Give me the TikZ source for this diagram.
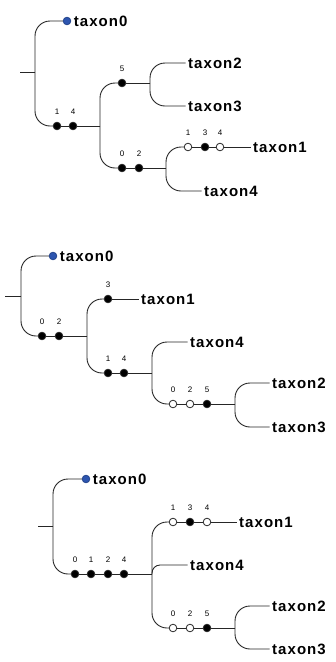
\documentclass[tikz,border=0pt]{standalone}
\usepackage{fontspec}
\setmainfont{Liberation Sans}
\newfontfamily\taxfont{Liberation Sans}[LetterSpace=7]
\usetikzlibrary{positioning}
\definecolor{siteblue}{RGB}{45,85,175}
\tikzset{
	branch/.style = {draw = black!85, line width = 0.9pt, rounded corners = 15},
	num/.style = {font = \fontsize{8}{8}\selectfont, inner sep = 0, yshift = 7.5pt},
	taxon/.style = {font = \taxfont\fontsize{15}{15}\selectfont\bfseries, inner xsep = 2.5, inner ysep = 0, anchor = west}
}
\newcommand{\site}[2]{
	\node[draw = black!85, line width = 0.8pt, circle, fill = #1, inner sep = 0, minimum size = 7.6, label distance = 0pt, label = {[num]above:#2}]
}
\newcommand{\leafdot}{
	\node[draw = siteblue!80!black, line width = 0.8pt, circle, fill = siteblue, inner sep = 0, minimum size = 7.6]
}

\begin{document}
\begin{tikzpicture}[x = 1pt, y = -1pt]
	\useasboundingbox (0,0) rectangle (336,662);

		% first tree
		\coordinate (a_root) at (20,72);
		\coordinate (a_j1) at (35,72);
		\coordinate (a_j2) at (100,126);
		\coordinate (a_j3) at (150,83);
		\coordinate (a_j4) at (166,168);

		\leafdot (a_b0) at (67,21) {};
		\node[taxon, right = 0 of a_b0] (a_tx0) {taxon0};

		\site{black}{1} (a_s1) at (57,126) {};
		\site{black}{4} (a_s2) at (73,126) {};
		\site{black}{5} (a_s3) at (122,83) {};
		\site{black}{0} (a_s4) at (122,168) {};
		\site{black}{2} (a_s5) at (139,168) {};
		\site{white}{1} (a_s6) at (188,147) {};
		\site{black}{3} (a_s7) at (205,147) {};
		\site{white}{4} (a_s8) at (220,147) {};

		\node[taxon] (a_tx1) at (250.5,147) {taxon1};
		\node[taxon] (a_tx2) at (185.5,63) {taxon2};
		\node[taxon] (a_tx3) at (185.5,106) {taxon3};
		\node[taxon] (a_tx4) at (201.5,191) {taxon4};

		\draw[branch] (a_root) -- (a_j1);
		\draw[branch] (a_j1) |- (a_b0);
		\draw[branch] (a_j1) |- (a_s1);
		\draw[branch] (a_s1) -- (a_s2);
		\draw[branch] (a_s2) -- (a_j2);
		\draw[branch] (a_j2) |- (a_s3);
		\draw[branch] (a_j2) |- (a_s4);
		\draw[branch] (a_s3) -- (a_j3);
		\draw[branch] (a_j3) |- (a_tx2);
		\draw[branch] (a_j3) |- (a_tx3);
		\draw[branch] (a_s4) -- (a_s5);
		\draw[branch] (a_s5) -- (a_j4);
		\draw[branch] (a_j4) |- (a_s6);
		\draw[branch] (a_s6) -- (a_s7);
		\draw[branch] (a_s7) -- (a_s8);
		\draw[branch] (a_s8) -- (a_tx1);
		\draw[branch] (a_j4) |- (a_tx4);

		% second tree
		\coordinate (b_root) at (5,296);
		\coordinate (b_j1) at (21,296);
		\coordinate (b_j2) at (87,336);
		\coordinate (b_j3) at (152,373);
		\coordinate (b_j4) at (235,404);

		\leafdot (b_b0) at (53,256) {};
		\node[taxon, right = 0 of b_b0] (b_tx0) {taxon0};

		\site{black}{0} (b_s1) at (42,336) {};
		\site{black}{2} (b_s2) at (59,336) {};
		\site{black}{3} (b_s3) at (108,299) {};
		\site{black}{1} (b_s4) at (108,373) {};
		\site{black}{4} (b_s5) at (124,373) {};
		\site{white}{0} (b_s6) at (173,404) {};
		\site{white}{2} (b_s7) at (190,404) {};
		\site{black}{5} (b_s8) at (207,404) {};

		\node[taxon] (b_tx1) at (138.5,299) {taxon1};
		\node[taxon] (b_tx4) at (187.5,342) {taxon4};
		\node[taxon] (b_tx2) at (269.5,383) {taxon2};
		\node[taxon] (b_tx3) at (269.5,427) {taxon3};

		\draw[branch] (b_root) -- (b_j1);
		\draw[branch] (b_j1) |- (b_b0);
		\draw[branch] (b_j1) |- (b_s1);
		\draw[branch] (b_s1) -- (b_s2);
		\draw[branch] (b_s2) -- (b_j2);
		\draw[branch] (b_j2) |- (b_s3);
		\draw[branch] (b_s3) -- (b_tx1);
		\draw[branch] (b_j2) |- (b_s4);
		\draw[branch] (b_s4) -- (b_s5);
		\draw[branch] (b_s5) -- (b_j3);
		\draw[branch] (b_j3) |- (b_tx4);
		\draw[branch] (b_j3) |- (b_s6);
		\draw[branch] (b_s6) -- (b_s7);
		\draw[branch] (b_s7) -- (b_s8);
		\draw[branch] (b_s8) -- (b_j4);
		\draw[branch] (b_j4) |- (b_tx2);
		\draw[branch] (b_j4) |- (b_tx3);

		% third tree
		\coordinate (c_root) at (38,526);
		\coordinate (c_j1) at (53,526);
		\coordinate (c_j2) at (152,574);
		\coordinate (c_j3) at (235,628);

		\leafdot (c_b0) at (86,479) {};
		\node[taxon, right = 0 of c_b0] (c_tx0) {taxon0};

		\site{black}{0} (c_s1) at (75,574) {};
		\site{black}{1} (c_s2) at (91,574) {};
		\site{black}{2} (c_s3) at (108,574) {};
		\site{black}{4} (c_s4) at (124,574) {};
		\site{white}{1} (c_s5) at (173,522) {};
		\site{black}{3} (c_s6) at (190,522) {};
		\site{white}{4} (c_s7) at (207,522) {};
		\site{white}{0} (c_s8) at (173,628) {};
		\site{white}{2} (c_s9) at (190,628) {};
		\site{black}{5} (c_s10) at (207,628) {};

		\node[taxon] (c_tx1) at (236.5,522) {taxon1};
		\node[taxon] (c_tx4) at (187.5,565) {taxon4};
		\node[taxon] (c_tx2) at (269.5,606) {taxon2};
		\node[taxon] (c_tx3) at (269.5,649) {taxon3};

		\draw[branch] (c_root) -- (c_j1);
		\draw[branch] (c_j1) |- (c_b0);
		\draw[branch] (c_j1) |- (c_s1);
		\draw[branch] (c_s1) -- (c_s2);
		\draw[branch] (c_s2) -- (c_s3);
		\draw[branch] (c_s3) -- (c_s4);
		\draw[branch] (c_s4) -- (c_j2);
		\draw[branch] (c_j2) |- (c_s5);
		\draw[branch] (c_s5) -- (c_s6);
		\draw[branch] (c_s6) -- (c_s7);
		\draw[branch] (c_s7) -- (c_tx1);
		\draw[branch, rounded corners = 8] (c_j2) |- (c_tx4);
		\draw[branch] (c_j2) |- (c_s8);
		\draw[branch] (c_s8) -- (c_s9);
		\draw[branch] (c_s9) -- (c_s10);
		\draw[branch] (c_s10) -- (c_j3);
		\draw[branch] (c_j3) |- (c_tx2);
		\draw[branch] (c_j3) |- (c_tx3);
	\end{tikzpicture}
\end{document}
